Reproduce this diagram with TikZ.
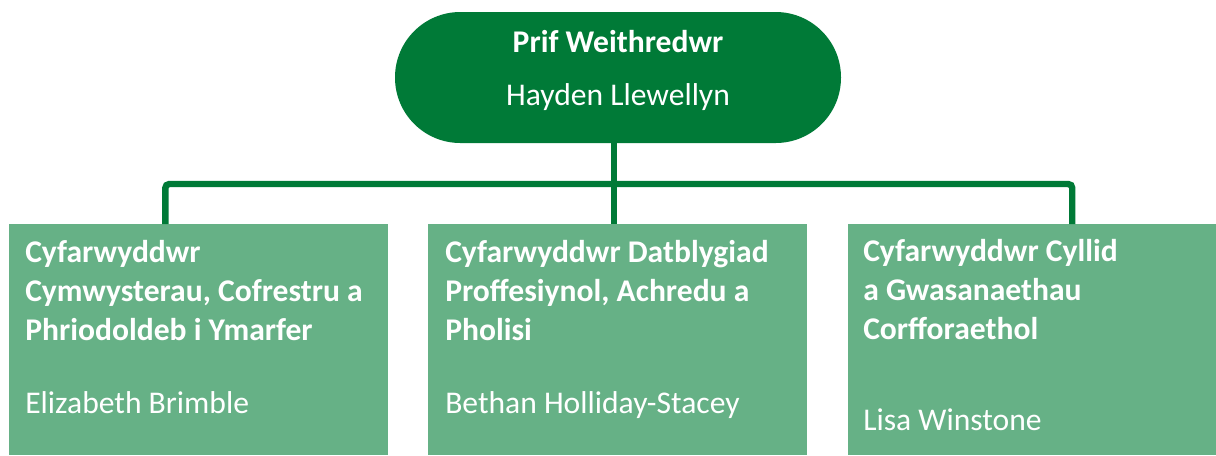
\documentclass[tikz,border=0pt]{standalone}
\usepackage{fontspec}
\setmainfont{Carlito}
\usetikzlibrary{positioning}
\definecolor{darkgreen}{HTML}{007A37}
\definecolor{lightgreen}{HTML}{66B186}
\begin{document}
\begin{tikzpicture}
    [
    x=0.75pt, y=-0.75pt
    , boss/.style = {fill=darkgreen,rounded corners=49pt,minimum width=334.5pt,minimum height=98.25pt,inner sep=0pt}
    , dirbox/.style = {fill=lightgreen,anchor=north west,minimum width=284.25pt,minimum height=173.25pt,inner sep=0pt}
    , title/.style = {anchor=base west,align=left,text=white,inner sep=0pt,font=\fontsize{23.7}{29.25}\selectfont\bfseries}
    , person/.style = {anchor=base west,text=white,inner sep=0pt,font=\fontsize{23.7}{29}\selectfont}
    , link/.style = {darkgreen,line width=4.8pt,rounded corners=3pt}
    ]
\useasboundingbox (0,0) rectangle (1216,455);

% chief executive
\node[boss] (ceo) at (618,77.5) {};
\node[person,anchor=base,font=\fontsize{23.7}{29}\selectfont\bfseries] (ceoTitle) at (618,52) {Prif Weithredwr};
\node[person,anchor=base] (ceoName) at (618,105) {Hayden Llewellyn};

% directors (title nodes sit on the baseline of their last line)
\node[dirbox] (dirA) at (9,224) {};
\node[title] (dirAtitle) at (25,340) {Cyfarwyddwr\\Cymwysterau, Cofrestru a\\Phriodoldeb i Ymarfer};
\node[person] (dirAname) at (25,413) {Elizabeth Brimble};

\node[dirbox] (dirB) at (428,224) {};
\node[title] (dirBtitle) at (445,340) {Cyfarwyddwr Datblygiad\\Proffesiynol, Achredu a\\Pholisi};
\node[person] (dirBname) at (445,413) {Bethan Holliday-Stacey};

\node[dirbox,minimum width=276pt] (dirC) at (848,224) {};
\node[title] (dirCtitle) at (863,339) {Cyfarwyddwr Cyllid\\a Gwasanaethau\\Corfforaethol};
\node[person] (dirCname) at (863,430) {Lisa Winstone};

% connectors
\coordinate (bar) at (614,184);
\draw[link] (ceo.south -| bar) -- (bar);
\draw[link] ([xshift=-25.1pt]dirA.north) |- (bar) -| ([xshift=30pt]dirC.north);
\draw[link] (bar) -- (bar |- dirB.north);
\end{tikzpicture}
\end{document}
